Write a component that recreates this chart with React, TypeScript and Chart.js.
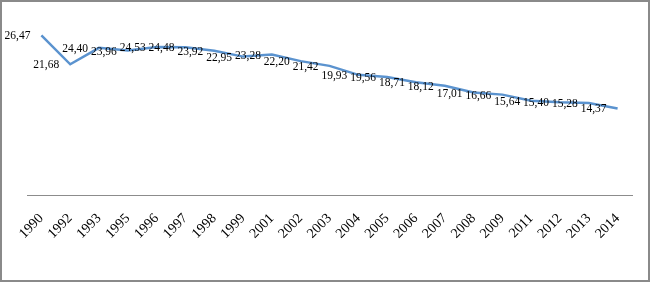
import React, { useEffect, useRef } from "react";
import { Chart, registerables } from "chart.js";

Chart.register(...registerables);

const years: string[] = [
  "1990", "1992", "1993", "1995", "1996", "1997", "1998", "1999", "2001", "2002", "2003",
  "2004", "2005", "2006", "2007", "2008", "2009", "2011", "2012", "2013", "2014",
];

const values: number[] = [
  26.47, 21.68, 24.4, 23.96, 24.53, 24.48, 23.92, 22.95, 23.28, 22.2, 21.42,
  19.93, 19.56, 18.71, 18.12, 17.01, 16.66, 15.64, 15.4, 15.28, 14.37,
];

const yMin = 0;
const yMax = 30;

const fmt = (v: number) => v.toFixed(2).replace(".", ",");

const labelPlugin = {
  id: "valueLabels",
  afterDatasetsDraw(chart: any) {
    const ctx = chart.ctx;
    const meta = chart.getDatasetMeta(0);
    ctx.save();
    ctx.font = '11.5px "Liberation Serif", "Times New Roman", serif';
    ctx.fillStyle = "#000";
    ctx.textAlign = "right";
    ctx.textBaseline = "middle";
    meta.data.forEach((pt: any, i: number) => {
      ctx.fillText(fmt(values[i]), pt.x - 11, pt.y + 1);
    });
    ctx.restore();
  },
};

const framePlugin = {
  id: "frame",
  beforeDraw(chart: any) {
    const ctx = chart.ctx;
    ctx.save();
    ctx.fillStyle = "#fff";
    ctx.fillRect(0, 0, chart.width, chart.height);
    ctx.restore();
  },
  afterDraw(chart: any) {
    const ctx = chart.ctx;
    ctx.save();
    ctx.strokeStyle = "#8a8a8a";
    ctx.lineWidth = 2;
    ctx.strokeRect(1, 1, chart.width - 2, chart.height - 2);
    ctx.restore();
  },
};

export default function App() {
  const ref = useRef<HTMLCanvasElement | null>(null);
  useEffect(() => {
    if (!ref.current) return;
    const chart = new Chart(ref.current, {
      type: "line",
      data: {
        labels: years,
        datasets: [
          {
            data: values,
            borderColor: "#5b93cf",
            borderWidth: 2.5,
            pointRadius: 0,
            fill: false,
            tension: 0,
          },
        ],
      },
      options: {
        responsive: false,
        animation: false,
        plugins: {
          legend: { display: false },
          tooltip: { enabled: false },
        },
        layout: { padding: { left: 27, right: 18, top: 14, bottom: 33 } },
        scales: {
          x: {
            offset: true,
            grid: { display: false },
            border: { display: true, color: "#8c8c8c", width: 1 },
            ticks: {
              color: "#000",
              minRotation: 45,
              maxRotation: 45,
              autoSkip: false,
              padding: 7,
              font: { family: '"Liberation Serif", "Times New Roman", serif', size: 14 },
            },
          },
          y: {
            display: false,
            min: yMin,
            max: yMax,
          },
        },
      },
      plugins: [labelPlugin, framePlugin],
    });
    return () => chart.destroy();
  }, []);
  return (
    <div style={{ position: "absolute", left: 0, top: 0, width: 650, height: 282 }}>
      <canvas ref={ref} width={650} height={282} style={{ display: "block" }} />
    </div>
  );
}
